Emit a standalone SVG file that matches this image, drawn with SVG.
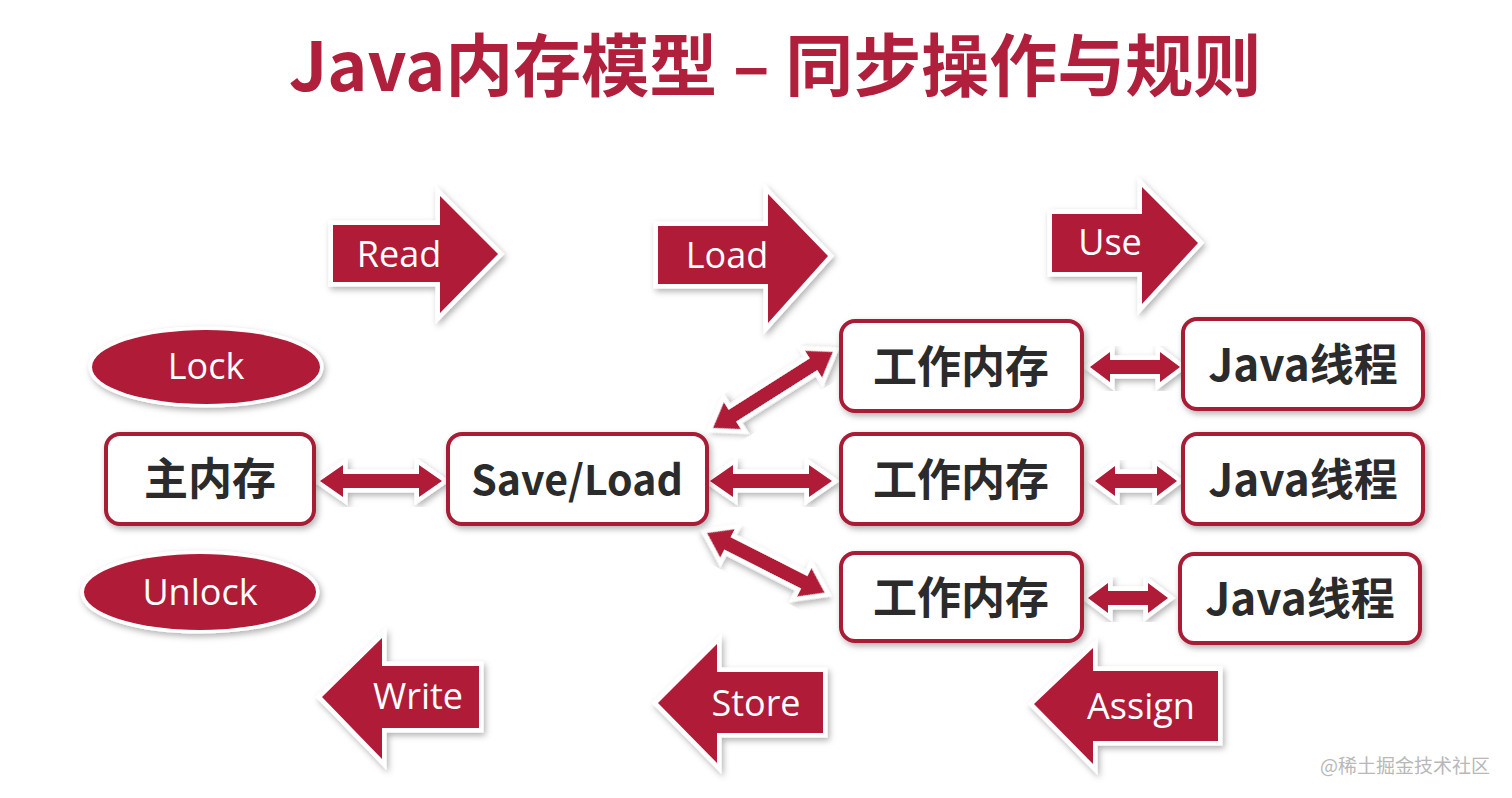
<svg xmlns="http://www.w3.org/2000/svg" width="1512" height="798" viewBox="0 0 1512 798">
<defs>
<filter id="sh" x="-20%" y="-20%" width="140%" height="150%">
<feDropShadow dx="2" dy="3" stdDeviation="3" flood-color="#000" flood-opacity="0.3"/>
</filter>
<style>
.blk{fill:#b01a38;stroke:#fff;stroke-width:9;stroke-linejoin:miter;paint-order:stroke;filter:url(#sh)}
.con{fill:#b01a38;stroke:#fff;stroke-width:9;stroke-linejoin:miter;paint-order:stroke;filter:url(#sh)}
.box{fill:#fff;stroke:#a81a36;stroke-width:4;filter:url(#sh)}
.ell{fill:#b01a38;stroke:#fff;stroke-width:7;paint-order:stroke;filter:url(#sh)}
.lbl{font-family:"Open Sans","Noto Sans",sans-serif;font-size:36px;fill:#fff;text-anchor:middle}
.bt{font-family:"Noto Sans CJK SC","Noto Sans",sans-serif;font-weight:bold;font-size:44px;fill:#2b2b2b;text-anchor:middle}
.ttl{font-family:"Noto Sans CJK SC","Noto Sans",sans-serif;font-weight:bold;font-size:68px;fill:#b01f3c;text-anchor:middle}
</style>
</defs>
<rect width="1512" height="798" fill="#fff"/>
<text class="ttl" x="775" y="91">Java内存模型 – 同步操作与规则</text>

<g id="connectors">
<path class="con" d="M320,481 L343,465 L343,474 L419,474 L419,465 L442,481 L419,497 L419,488 L343,488 L343,497 Z"/>
<path class="con" d="M710,481 L733,465 L733,474 L809,474 L809,465 L832,481 L809,497 L809,488 L733,488 L733,497 Z"/>
<g transform="translate(713,428) rotate(-32.4)">
<path class="con" d="M0,0 L23,-16 L23,-7 L119,-7 L119,-16 L142,0 L119,16 L119,7 L23,7 L23,16 Z"/>
</g>
<g transform="translate(707,533) rotate(26.9)">
<path class="con" d="M0,0 L23,-16 L23,-7 L109,-7 L109,-16 L132,0 L109,16 L109,7 L23,7 L23,16 Z"/>
</g>
<path class="con" d="M1090,367 L1110,352 L1110,360 L1160,360 L1160,352 L1180,367 L1160,382 L1160,374 L1110,374 L1110,382 Z"/>
<path class="con" d="M1095,481 L1115,466 L1115,474 L1157,474 L1157,466 L1177,481 L1157,496 L1157,488 L1115,488 L1115,496 Z"/>
<path class="con" d="M1088,598 L1108,583 L1108,591 L1148,591 L1148,583 L1168,598 L1148,613 L1148,605 L1108,605 L1108,613 Z"/>
</g>

<g id="read">
<path class="blk" d="M333,225 L440,225 L440,196 L498,254 L440,313 L440,282 L333,282 Z"/>
<text class="lbl" x="399" y="267">Read</text>
</g>
<g id="load">
<path class="blk" d="M658,226 L768,226 L768,194 L828,256 L768,323 L768,284 L658,284 Z"/>
<text class="lbl" x="727" y="268">Load</text>
</g>
<g id="use">
<path class="blk" d="M1052,214 L1142,214 L1142,187 L1198,243 L1142,304 L1142,272 L1052,272 Z"/>
<text class="lbl" x="1110" y="255">Use</text>
</g>
<g id="write">
<path class="blk" d="M479,666 L382,666 L382,638 L322,697 L382,759 L382,728 L479,728 Z"/>
<text class="lbl" x="418" y="709">Write</text>
</g>
<g id="store">
<path class="blk" d="M823,672 L717,672 L717,644 L658,703 L717,763 L717,733 L823,733 Z"/>
<text class="lbl" x="756" y="716">Store</text>
</g>
<g id="assign">
<path class="blk" d="M1218,671 L1093,671 L1093,648 L1034,704 L1093,764 L1093,741 L1218,741 Z"/>
<text class="lbl" x="1141" y="719">Assign</text>
</g>

<g id="lock">
<ellipse class="ell" cx="206" cy="367" rx="114" ry="37"/>
<text class="lbl" x="206" y="379">Lock</text>
</g>
<g id="unlock">
<ellipse class="ell" cx="200" cy="592" rx="116" ry="38"/>
<text class="lbl" x="200" y="605">Unlock</text>
</g>

<g id="main-memory">
<rect class="box" x="106" y="434" width="208" height="90" rx="14"/>
<text class="bt" x="210" y="495">主内存</text>
</g>
<g id="save-load">
<rect class="box" x="448" y="434" width="259" height="90" rx="14"/>
<text class="bt" x="577" y="495" style="font-size:41px">Save/Load</text>
</g>
<g id="work1">
<rect class="box" x="841" y="321" width="241" height="90" rx="14"/>
<text class="bt" x="961" y="383">工作内存</text>
</g>
<g id="work2">
<rect class="box" x="841" y="434" width="241" height="90" rx="14"/>
<text class="bt" x="961" y="496">工作内存</text>
</g>
<g id="work3">
<rect class="box" x="841" y="553" width="241" height="88" rx="14"/>
<text class="bt" x="961" y="614">工作内存</text>
</g>
<g id="thread1">
<rect class="box" x="1183" y="319" width="240" height="90" rx="14"/>
<text class="bt" x="1303" y="381">Java线程</text>
</g>
<g id="thread2">
<rect class="box" x="1183" y="434" width="240" height="90" rx="14"/>
<text class="bt" x="1303" y="496">Java线程</text>
</g>
<g id="thread3">
<rect class="box" x="1180" y="554" width="240" height="89" rx="14"/>
<text class="bt" x="1300" y="615">Java线程</text>
</g>

<text x="1490" y="773" style="font-family:'Noto Sans CJK SC',sans-serif;font-size:19px;fill:#b8b8b8;text-anchor:end">@稀土掘金技术社区</text>
</svg>
